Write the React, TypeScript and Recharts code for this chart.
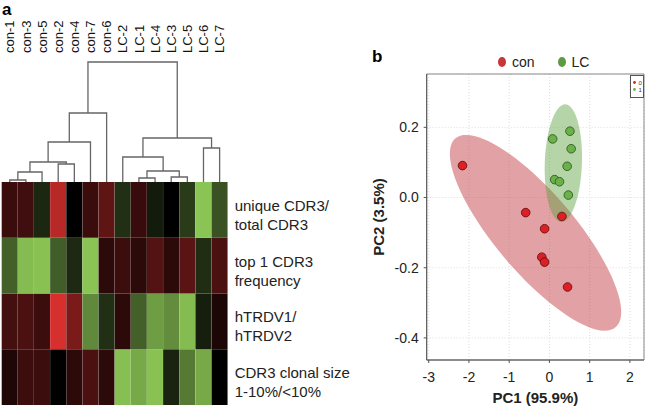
import {
  BarChart, Bar, Cell, ScatterChart, Scatter, XAxis, YAxis,
  CartesianGrid, ReferenceArea, Legend,
} from "recharts";

const SANS = '"Liberation Sans", Arial, sans-serif';
const NARROW = '"Liberation Sans Narrow", "Arial Narrow", "Liberation Sans", sans-serif';

// ---- panel a: heatmap + dendrogram ----
const SAMPLES = [
  "con-1", "con-3", "con-5", "con-2", "con-4", "con-7", "con-6",
  "LC-2", "LC-1", "LC-4", "LC-3", "LC-5", "LC-6", "LC-7",
];

// z-scores per row, columns in SAMPLES order (red = high, green = low)
const uniqueCdr3 = [0.27, 0.3, -0.2, 0.85, 0, 0.27, 0.44, -0.24, 0.26, -0.14, 0, -0.3, -1, -0.42];
const top1Freq = [-0.49, -0.96, -0.99, -0.48, -0.21, -1, 0.2, 0.28, 0.2, 0.39, 0.2, 0.42, -0.23, 0.35];
const trdvRatio = [0.32, 0.35, 0.28, 1, 0.57, -0.7, -0.24, 0.2, -0.49, -0.8, -0.72, -0.96, -0.16, 0.13];
const clonalSize = [0.15, 0.28, 0.28, 0, 0.2, 0.35, 0.21, -0.98, -0.86, -0.99, -0.18, -0.62, -0.86, 0];

// bottom to top
const ROWS = [
  { key: "clonal", label: ["CDR3 clonal size", "1-10%/<10%"], values: clonalSize },
  { key: "trdv", label: ["hTRDV1/", "hTRDV2"], values: trdvRatio },
  { key: "top1", label: ["top 1 CDR3", "frequency"], values: top1Freq },
  { key: "unique", label: ["unique CDR3/", "total CDR3"], values: uniqueCdr3 },
];

// hclust style merges: negative = leaf (1-based column), positive = earlier merge row
const DENDRO_MERGES: [number, number, number][] = [
  [-1, -2, 2],
  [1, -3, 10],
  [-4, -5, 18],
  [2, 3, 20],
  [4, -6, 40],
  [5, -7, 69],
  [-9, -10, 4],
  [-11, -12, 5],
  [7, 8, 11],
  [-8, 9, 25],
  [-13, -14, 34],
  [10, 11, 44],
  [6, 12, 120],
];

// ---- panel b: PCA ----
const GROUPS = ["con", "LC"];
const conPC1 = [-2.16, -0.59, -0.12, 0.31, -0.19, -0.12, 0.45];
const conPC2 = [0.091, -0.043, -0.089, -0.054, -0.17, -0.184, -0.255];
const lcPC1 = [0.08, 0.51, 0.54, 0.44, 0.13, 0.25, 0.47];
const lcPC2 = [0.167, 0.189, 0.139, 0.089, 0.051, 0.045, 0.007];
const pc1Ticks = [-3, -2, -1, 0, 1, 2];
const pc2Ticks = [-0.4, -0.2, 0, 0.2];

const RED = [214, 48, 46];
const GREEN = [138, 196, 84];
function zColor(v: number) {
  const c = v >= 0 ? RED : GREEN;
  const t = Math.min(1, Math.abs(v));
  return `rgb(${c.map((ch) => Math.round(ch * t)).join(",")})`;
}

const heatData = SAMPLES.map((name, i) => {
  const row: Record<string, string | number> = { name };
  ROWS.forEach((r) => { row[r.key] = 1; row[r.key + "Z"] = r.values[i]; });
  return row;
});

function buildDendro() {
  const nodes: { x: number; h: number }[] = [];
  const segs: { x: number; y: number }[][] = [];
  DENDRO_MERGES.forEach(([a, b, h]) => {
    const pa = a < 0 ? { x: -a - 0.5, h: 0 } : nodes[a - 1];
    const pb = b < 0 ? { x: -b - 0.5, h: 0 } : nodes[b - 1];
    segs.push([
      { x: pa.x, y: pa.h }, { x: pa.x, y: h }, { x: pb.x, y: h }, { x: pb.x, y: pb.h },
    ]);
    nodes.push({ x: (pa.x + pb.x) / 2, h });
  });
  return segs;
}
const dendroSegs = buildDendro();

// 95% normal confidence ellipse of a group (chi-square, 2 df)
function ellipse95(xs: number[], ys: number[], n = 90) {
  const k = xs.length;
  const mx = xs.reduce((s, v) => s + v, 0) / k;
  const my = ys.reduce((s, v) => s + v, 0) / k;
  let sxx = 0, syy = 0, sxy = 0;
  for (let i = 0; i < k; i++) {
    sxx += (xs[i] - mx) ** 2;
    syy += (ys[i] - my) ** 2;
    sxy += (xs[i] - mx) * (ys[i] - my);
  }
  sxx /= k - 1; syy /= k - 1; sxy /= k - 1;
  const tr = sxx + syy;
  const det = sxx * syy - sxy * sxy;
  const d = Math.sqrt(Math.max(0, (tr * tr) / 4 - det));
  const l1 = tr / 2 + d, l2 = tr / 2 - d;
  const th = Math.atan2(l1 - sxx, sxy);
  const c = Math.sqrt(5.991);
  const pts = [];
  for (let i = 0; i <= n; i++) {
    const t = (2 * Math.PI * i) / n;
    const u = c * Math.sqrt(l1) * Math.cos(t);
    const w = c * Math.sqrt(Math.max(l2, 0)) * Math.sin(t);
    pts.push({ x: mx + u * Math.cos(th) - w * Math.sin(th), y: my + u * Math.sin(th) + w * Math.cos(th) });
  }
  return pts;
}

const conPts = conPC1.map((x, i) => ({ x, y: conPC2[i] }));
const lcPts = lcPC1.map((x, i) => ({ x, y: lcPC2[i] }));
const conEllipse = ellipse95(conPC1, conPC2);
const lcEllipse = ellipse95(lcPC1, lcPC2);

function SampleLabel(props: any) {
  const { x, y, payload } = props;
  return (
    <text x={x} y={y} transform={`rotate(-90 ${x} ${y})`} dy="0.36em" textAnchor="start"
      fontSize={13} fill="#111" fontFamily={SANS}>
      {SAMPLES[Math.floor(payload.value)]}
    </text>
  );
}

function RowLabel(props: any) {
  const { x, y, payload } = props;
  const lines = ROWS[Math.floor(payload.value)].label;
  return (
    <text x={x} y={y} fontSize={15} fill="#222" fontFamily={SANS}>
      <tspan x={x} dy={1}>{lines[0]}</tspan>
      <tspan x={x} dy={19}>{lines[1]}</tspan>
    </text>
  );
}

const dot = (fill: string, stroke: string) => (p: any) => (
  <circle cx={p.cx} cy={p.cy} r={4.3} fill={fill} stroke={stroke} strokeWidth={0.9} />
);
const noDot = () => <g />;

function PcaLegend({ payload }: any) {
  const items = GROUPS.map((g) => (payload || []).find((p: any) => p.value === g)).filter(Boolean);
  return (
    <div style={{ display: "flex", gap: 22, fontFamily: NARROW, fontSize: 14, color: "#222" }}>
      {items.map((p: any) => (
        <div key={p.value} style={{ display: "flex", alignItems: "center", gap: 5 }}>
          <svg width={10} height={12}><ellipse cx={5} cy={6} rx={4} ry={5} fill={p.color} /></svg>
          <span>{p.value}</span>
        </div>
      ))}
    </div>
  );
}

const tickStyle = { fill: "#222", fontSize: 14, fontFamily: NARROW };

export default function App() {
  return (
    <div style={{ position: "absolute", left: 0, top: 0, width: 646, height: 410, background: "#fff", fontFamily: SANS }}>
      <div style={{ position: "absolute", left: 2, top: 1, fontWeight: "bold", fontSize: 17, lineHeight: "17px" }}>a</div>
      <div style={{ position: "absolute", left: 372, top: 48, fontWeight: "bold", fontSize: 17, lineHeight: "17px" }}>b</div>

      <div style={{ position: "absolute", left: 0, top: 0 }}>
        <ScatterChart width={240} height={190} margin={{ top: 0, right: 12.3, bottom: 8, left: 1.7 }}>
          <XAxis type="number" dataKey="x" orientation="top" domain={[0, 14]}
            ticks={SAMPLES.map((_, i) => i + 0.5)} interval={0} height={62}
            axisLine={false} tickLine={false} tickSize={8} tickMargin={1}
            tick={(p: any) => <SampleLabel {...p} />} />
          <YAxis type="number" dataKey="y" domain={[0, 120]} hide />
          {dendroSegs.map((pts, i) => (
            <Scatter key={i} data={pts} line={{ stroke: "#666", strokeWidth: 1.3 }}
              shape={noDot} legendType="none" isAnimationActive={false} />
          ))}
        </ScatterChart>
      </div>

      <div style={{ position: "absolute", left: 0, top: 178 }}>
        <BarChart width={370} height={227} data={heatData} barCategoryGap={0} barGap={0}
          margin={{ top: 4, right: 0, bottom: 0, left: 1.7 }}>
          <XAxis dataKey="name" hide />
          <YAxis orientation="right" type="number" domain={[0, 4]} ticks={ROWS.map((_, i) => i + 0.5)}
            interval={0} width={142.3} axisLine={false} tickLine={false} tickSize={0} tickMargin={7}
            tick={(p: any) => <RowLabel {...p} />} />
          {ROWS.map((r) => (
            <Bar key={r.key} dataKey={r.key} stackId="heat" isAnimationActive={false}>
              {r.values.map((v, i) => <Cell key={i} fill={zColor(v)} />)}
            </Bar>
          ))}
        </BarChart>
      </div>

      <div style={{ position: "absolute", left: 360, top: 40 }}>
        <ScatterChart width={286} height={370} margin={{ top: 34, right: 2, bottom: 0, left: 0 }}>
          <CartesianGrid stroke="#dcdcdc" strokeDasharray="1 2" />
          <ReferenceArea x1={-3.05} x2={2.35} y1={-0.463} y2={0.352} fill="none" stroke="#8a8a8a" />
          <XAxis type="number" dataKey="x" domain={[-3.05, 2.35]} ticks={pc1Ticks} allowDataOverflow
            height={50} tickSize={3} tickMargin={9} stroke="#555" tick={tickStyle}
            label={{ value: "PC1 (95.9%)", position: "insideBottom", offset: 7,
              style: { fontWeight: "bold", fontSize: 15, fill: "#222", fontFamily: NARROW } }} />
          <YAxis type="number" dataKey="y" domain={[-0.463, 0.352]} ticks={pc2Ticks} allowDataOverflow
            width={66.7} tickSize={3} tickMargin={5} stroke="#555" tick={tickStyle}
            tickFormatter={(v: number) => v.toFixed(1)}
            label={{ value: "PC2 (3.5%)", angle: -90, position: "insideLeft", offset: 19,
              style: { textAnchor: "middle", fontWeight: "bold", fontSize: 15, fill: "#222", fontFamily: NARROW } }} />
          <Scatter data={conEllipse} line={{ fill: "#bf2f35", fillOpacity: 0.45, stroke: "none" }}
            shape={noDot} legendType="none" isAnimationActive={false} />
          <Scatter data={lcEllipse} line={{ fill: "#5aa03c", fillOpacity: 0.45, stroke: "none" }}
            shape={noDot} legendType="none" isAnimationActive={false} />
          <Scatter name="con" data={conPts} fill="#c8363c" shape={dot("#dd1f26", "#6a1010")} isAnimationActive={false} />
          <Scatter name="LC" data={lcPts} fill="#5c9a44" shape={dot("#6cb04a", "#2e5e22")} isAnimationActive={false} />
          <Legend layout="horizontal" verticalAlign="middle" align="center"
            wrapperStyle={{ top: 14, left: 137, width: 140 }} content={(p: any) => <PcaLegend {...p} />} />
        </ScatterChart>
      </div>

      <svg style={{ position: "absolute", left: 630, top: 75 }} width={14} height={23}>
        <rect x={0.5} y={0.5} width={13} height={22} fill="#fff" stroke="#555" />
        <circle cx={4.5} cy={7.5} r={1.4} fill="#e0202a" />
        <text x={8.5} y={9.5} fontSize={6} fill="#333" fontFamily={SANS}>0</text>
        <circle cx={4.5} cy={14.5} r={1.4} fill="#6cb04a" />
        <text x={8.5} y={16.5} fontSize={6} fill="#333" fontFamily={SANS}>1</text>
      </svg>
    </div>
  );
}
